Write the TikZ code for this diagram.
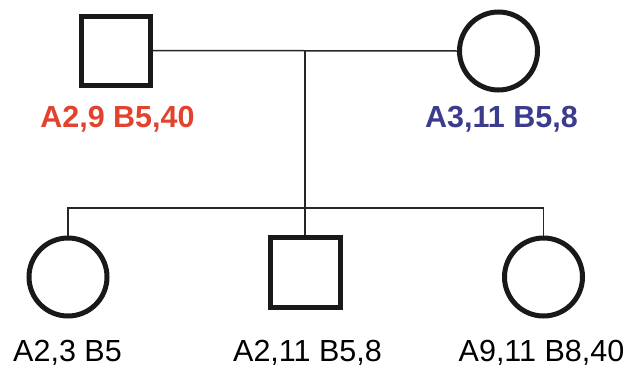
\documentclass[tikz,border=0pt]{standalone}
\usepackage{fontspec}
\setmainfont{Liberation Sans}
\definecolor{dadred}{HTML}{E2432E}
\definecolor{momblue}{HTML}{3C3C8E}
\begin{document}
\begin{tikzpicture}[x=1pt,y=-1pt,
  male/.style={draw=black!90, line width=5pt, rectangle, inner sep=0pt, minimum size=#1},
  female/.style={draw=black!90, line width=5pt, circle, inner sep=0pt, minimum size=78pt},
  link/.style={draw=black!85, line width=1.5pt},
  lbl/.style={anchor=base, inner sep=0pt, font=\fontsize{30.5}{36}\selectfont},
  lblb/.style={lbl, font=\fontsize{30.5}{36}\selectfont\bfseries}]
\useasboundingbox (0,0) rectangle (628,367);
% parents
\node[male=69pt] (dad) at (116,50.5) {};
\node[female] (mom) at (498.5,51) {};
\node[lblb, text=dadred] (dadl) at (117.5,127) {A2,9 B5,40};
\node[lblb, text=momblue] (moml) at (501.5,127) {A3,11 B5,8};
% children
\node[female] (c1) at (68,277) {};
\node[male=70pt] (c2) at (305,272.5) {};
\node[female] (c3) at (543.5,277) {};
\node[lbl] (c1l) at (67.5,361.5) {A2,3 B5};
\node[lbl] (c2l) at (307.5,361.5) {A2,11 B5,8};
\node[lbl] (c3l) at (541.5,361.5) {A9,11 B8,40};
% connectors
\coordinate (mid) at (305,50.5);
\coordinate (barL) at (68,208);
\coordinate (barR) at (543.5,208);
\draw[link] (dad.east) -- (mom.west);
\draw[link] (mid) -- (c2.north);
\draw[link] (c1.north) -- (barL) -- (barR) -- (c3.north);
\end{tikzpicture}
\end{document}
